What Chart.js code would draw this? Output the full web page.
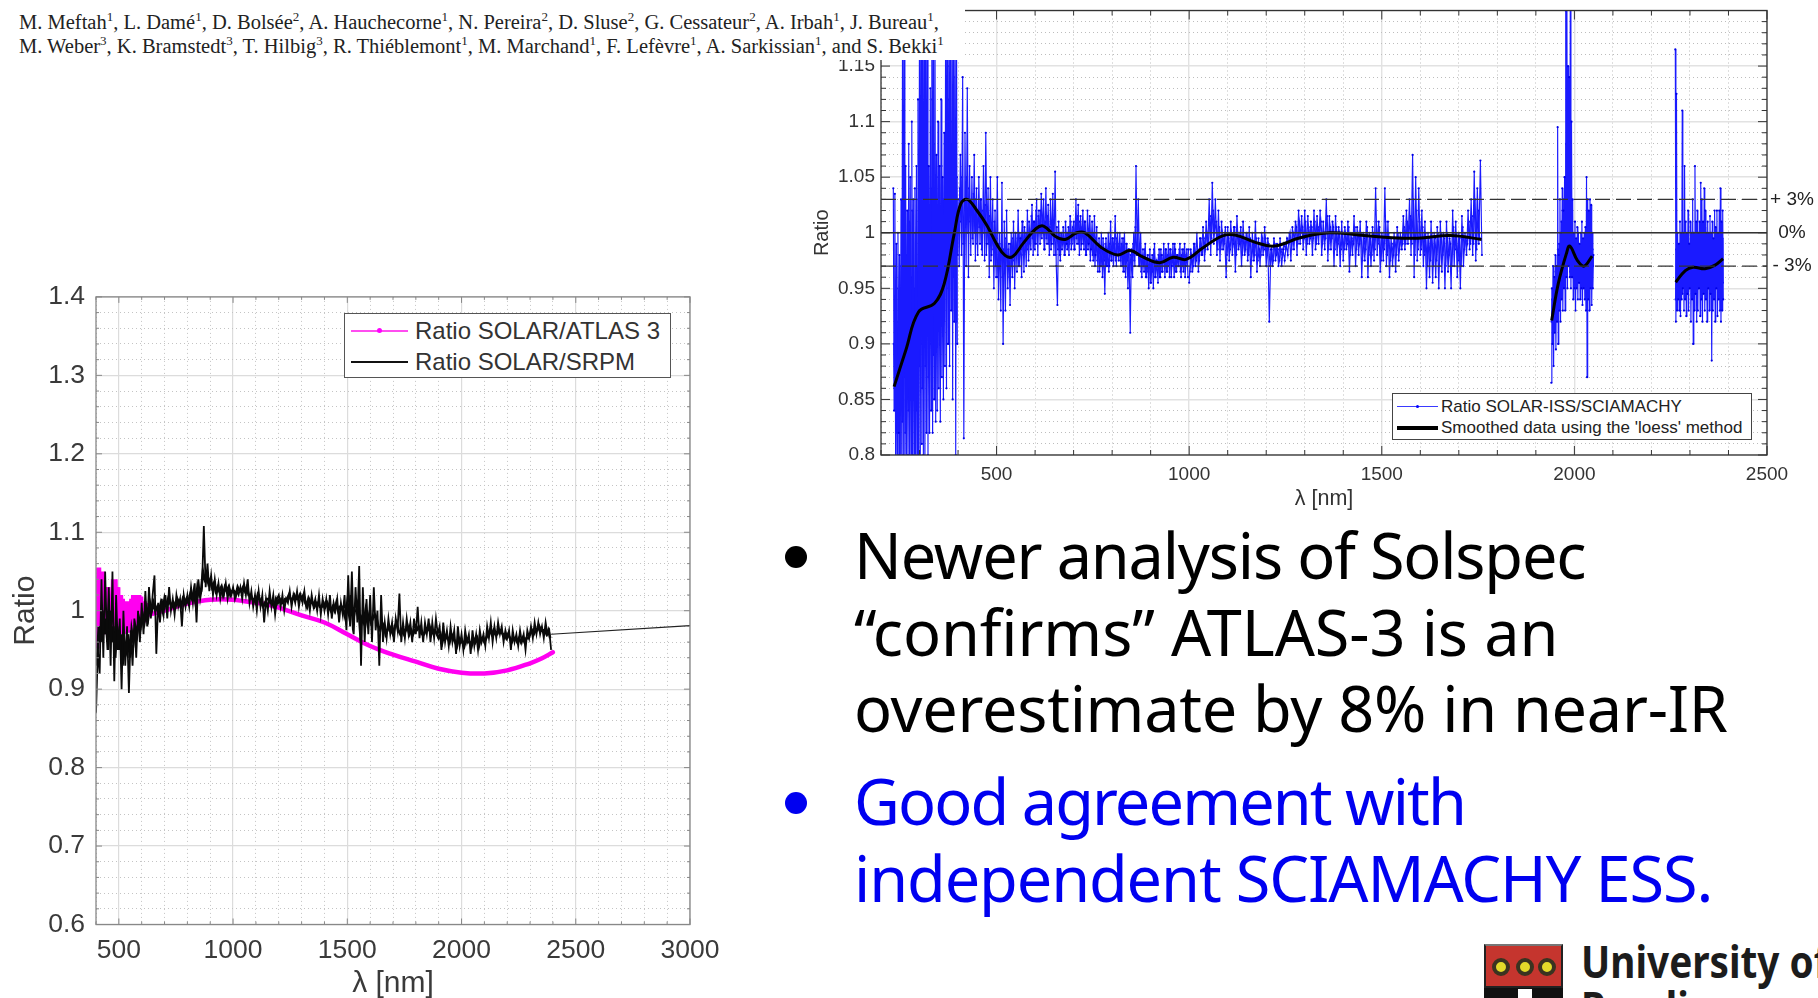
<!DOCTYPE html>
<html><head><meta charset="utf-8">
<script src="https://cdn.jsdelivr.net/npm/chart.js@4"></script>
<style>
html,body{margin:0;padding:0;background:#fff;width:1818px;height:998px;overflow:hidden}
#stage{position:relative;width:1818px;height:998px;overflow:hidden;background:#fff}
canvas{position:absolute;display:block}
.abs{position:absolute;white-space:nowrap}
#mask{left:0;top:0;width:965px;height:60px;background:#fff;z-index:5}
.auth{font-family:"Liberation Serif",serif;font-size:20.5px;color:#222;left:19px;line-height:24px}
.auth sup{font-size:13px;line-height:0}
.bl{font-family:"Noto Sans",sans-serif;font-size:63px;line-height:76px;left:854px;z-index:6}
.dot{border-radius:50%;width:22px;height:22px;left:785px}
.leg{background:#fff;z-index:6;box-sizing:border-box}
.lt{font-family:"Liberation Sans",sans-serif;color:#333}
</style></head><body>
<div id="stage">
<canvas id="leftChart" style="left:0;top:270px" width="740" height="728"></canvas>
<canvas id="rightChart" style="left:800px;top:-30px" width="1018" height="550"></canvas>

<div id="mask" class="abs">
<div class="abs auth" style="top:10px">M. Meftah<sup>1</sup>, L. Damé<sup>1</sup>, D. Bolsée<sup>2</sup>, A. Hauchecorne<sup>1</sup>, N. Pereira<sup>2</sup>, D. Sluse<sup>2</sup>, G. Cessateur<sup>2</sup>, A. Irbah<sup>1</sup>, J. Bureau<sup>1</sup>,</div>
<div class="abs auth" style="top:34px">M. Weber<sup>3</sup>, K. Bramstedt<sup>3</sup>, T. Hilbig<sup>3</sup>, R. Thiéblemont<sup>1</sup>, M. Marchand<sup>1</sup>, F. Lefèvre<sup>1</sup>, A. Sarkissian<sup>1</sup>, and S. Bekki<sup>1</sup></div>
</div>

<!-- left legend -->
<div class="abs leg" style="left:344px;top:313px;width:327px;height:65px;border:1.5px solid #555"></div>
<div class="abs" style="left:351px;top:330px;width:57px;height:1.5px;background:#ff4df0;z-index:7"></div>
<div class="abs" style="left:377px;top:328px;width:5px;height:5px;border-radius:50%;background:#f0f;z-index:7"></div>
<div class="abs" style="left:351px;top:361px;width:57px;height:2px;background:#111;z-index:7"></div>
<div class="abs lt" style="left:415px;top:316px;font-size:24px;line-height:30px;z-index:7">Ratio SOLAR/ATLAS 3</div>
<div class="abs lt" style="left:415px;top:347px;font-size:24px;line-height:30px;z-index:7">Ratio SOLAR/SRPM</div>

<!-- right legend -->
<div class="abs leg" style="left:1392px;top:393px;width:360px;height:47px;border:1.5px solid #444"></div>
<div class="abs" style="left:1397px;top:406px;width:41px;height:1px;background:#3a3aff;z-index:7"></div>
<div class="abs" style="left:1416px;top:405px;width:3px;height:3px;border-radius:50%;background:#00f;z-index:7"></div>
<div class="abs" style="left:1397px;top:426px;width:41px;height:3.5px;background:#000;z-index:7"></div>
<div class="abs lt" style="left:1441px;top:397px;font-size:17px;line-height:20px;z-index:7;color:#222">Ratio SOLAR-ISS/SCIAMACHY</div>
<div class="abs lt" style="left:1441px;top:418px;font-size:17px;line-height:20px;z-index:7;color:#222">Smoothed data using the 'loess' method</div>

<!-- bullets -->
<div class="abs dot" style="top:546px;background:#000"></div>
<div class="abs bl" style="top:517px;color:#000;letter-spacing:-1.16px">Newer analysis of Solspec</div>
<div class="abs bl" style="top:594px;color:#000;letter-spacing:-.1px">“confirms” ATLAS-3 is an</div>
<div class="abs bl" style="top:670px;color:#000;letter-spacing:-.28px">overestimate by 8% in near-IR</div>
<div class="abs dot" style="top:792px;background:#0000f0"></div>
<div class="abs bl" style="top:763px;color:#0000f0;letter-spacing:-1.9px">Good agreement with</div>
<div class="abs bl" style="top:840px;color:#0000f0;letter-spacing:-1.1px">independent SCIAMACHY ESS.</div>

<!-- logo -->
<div class="abs" style="left:1484px;top:944px;width:79px;height:44px;background:#c5352e;border:2px solid #222;border-top-color:#777;box-sizing:border-box"></div>
<div class="abs" style="left:1484px;top:988px;width:79px;height:10px;background:#111"></div>
<div class="abs" style="left:1518px;top:989px;width:14px;height:9px;background:#fff"></div>
<div class="abs" style="left:1492px;top:958px;width:18px;height:18px;border-radius:50%;background:#e3d92a;border:4px solid #3a3320;box-sizing:border-box"></div>
<div class="abs" style="left:1516px;top:958px;width:18px;height:18px;border-radius:50%;background:#e3d92a;border:4px solid #3a3320;box-sizing:border-box"></div>
<div class="abs" style="left:1538px;top:958px;width:18px;height:18px;border-radius:50%;background:#e3d92a;border:4px solid #3a3320;box-sizing:border-box"></div>
<div class="abs" style="left:1581px;top:935px;font-family:'Noto Sans',sans-serif;font-weight:700;font-size:44px;line-height:52px;color:#1c1c1c;transform:scaleX(.88);transform-origin:left center">University of</div>
<div class="abs" style="left:1581px;top:981px;font-family:'Noto Sans',sans-serif;font-weight:700;font-size:44px;line-height:52px;color:#1c1c1c;transform:scaleX(.88);transform-origin:left center">Reading</div>
</div>

<script>
/* ---------- left panel data ---------- */
const srpmStart = 400, srpmStep = 8;
const srpmRatio = [
.87,.95,.92,1.04,.94,1.05,.96,1.03,.93,1.05,.91,1.02,.95,.99,.90,1.0,.93,.98,.895,.975,.93,.99,.94,1.0,.96,
1.01,.97,1.025,.98,1.03,.99,1.02,1.045,.945,1.01,.985,1.015,.995,1.02,.99,1.03,1.0,1.015,.995,1.02,1.005,1.015,.98,1.02,1.005,
1.02,1.005,1.03,1.01,1.035,.985,1.04,1.015,1.03,1.108,1.03,1.06,1.025,1.045,1.02,1.04,1.02,1.035,1.015,1.03,1.02,1.035,1.015,1.03,1.02,
1.03,1.015,1.025,1.02,1.03,1.015,1.035,1.02,1.04,1.01,1.025,1.005,1.02,1.0,1.025,1.005,1.02,.985,1.015,1.0,1.025,1.005,1.02,.995,1.015,
1.02,1.005,1.02,1.0,1.015,1.01,1.025,1.005,1.02,1.01,1.025,1.005,1.02,1.01,1.025,1.005,1.015,1.0,1.02,1.005,1.015,1.0,1.02,.995,1.015,
1.0,1.015,.995,1.02,.99,1.01,1.0,1.015,.985,1.01,.995,1.02,.975,1.045,.98,1.05,.97,1.03,.985,1.057,.93,1.03,.96,1.015,.97,
1.02,.96,1.03,.975,1.0,.93,1.02,.96,.985,.965,.99,.97,.985,.96,.99,.975,1.022,.96,.985,.965,.99,.97,.985,.96,.99,
.97,1.005,.965,.985,.96,.985,.97,.99,.96,.985,.965,.99,.97,.98,.95,.985,.96,.975,.955,.98,.96,.975,.945,.98,.955,
.97,.95,.975,.96,.97,.945,.975,.955,.97,.95,.975,.96,.97,.955,.98,.965,.985,.96,.98,.965,.985,.97,.98,.96,.975,
.965,.975,.95,.975,.96,.97,.955,.975,.96,.97,.95,.975,.965,.98,.965,.985,.97,.985,.97,.98,.965,.985,.97,.975,.95];
const srpmCoreStart = 404, srpmCoreStep = 8;
const srpmCore = [
.93,.98,.96,1.0,.97,.99,.95,1.0,.96,.98,.94,.98,.95,.97,.93,.96,.95,.97,.94,.975,.96,.98,.97,.99,.98,
.995,.985,1.0,.99,1.01,1.0,1.01,1.0,1.005,1.0,1.01,1.0,1.015,1.005,1.015,1.01,1.005,1.01,1.005,1.015,1.01,1.005,1.015,1.01,1.015,
1.01,1.02,1.015,1.025,1.01,1.03,1.02,1.025,1.05,1.04,1.045,1.035,1.04,1.03,1.035,1.025,1.03,1.025,1.03,1.02,1.03,1.025,1.03,1.02,1.025,
1.025,1.02,1.03,1.025,1.025,1.03,1.025,1.03,1.02,1.02,1.015,1.015,1.01,1.02,1.015,1.01,1.005,1.01,1.015,1.015,1.01,1.01,1.005,1.015,1.01,
1.015,1.01,1.01,1.015,1.015,1.02,1.015,1.015,1.02,1.015,1.015,1.02,1.015,1.02,1.01,1.005,1.015,1.01,1.01,1.005,1.01,1.01,1.005,1.005,1.01,
1.005,1.01,1.005,1.0,1.005,1.0,1.01,1.0,1.005,1.005,1.0,.99,1.01,.995,1.02,.985,1.0,1.0,1.01,.975,.99,.985,1.0,.985,.995,
.985,.99,.995,.99,.98,.975,.985,.98,.97,.975,.98,.975,.97,.98,.985,.975,.97,.975,.97,.975,.98,.97,.975,.97,.975,
.975,.98,.975,.97,.97,.975,.975,.98,.97,.975,.975,.97,.965,.97,.96,.97,.965,.965,.96,.97,.965,.96,.955,.965,.96,
.96,.955,.965,.96,.96,.955,.965,.96,.965,.955,.965,.965,.96,.965,.97,.975,.97,.975,.97,.97,.975,.975,.97,.97,.965,
.97,.965,.96,.965,.965,.96,.965,.96,.965,.96,.965,.965,.97,.975,.97,.975,.975,.98,.975,.975,.975,.97,.975,.965];
const srpmTailX = [2392, 3000];
const srpmTailY = [.97, .981];
const atlasNoiseStart = 400, atlasNoiseStep = 4;
const atlasNoise = [.955,1.0,.96,1.055,.965,1.05,.97,1.05,.97,1.03,.975,1.02,.98,1.03,.975,1.01,.975,1.02,.98,1.04,.98,1.04,.975,1.03,.98,1.02,.975,1.02,.975,1.015,.97,1.012,.975,1.01,.975,1.012,.975,1.005,.975,1.015,.98,1.02,.98,1.02,.98,1.018,.985,1.02,.985,1.018,.99,1.012,.985,1.012,.99,1.01];
const atlasSmoothX = [630,700,750,800,850,900,950,1000,1050,1100,1150,1200,1300,1400,1500,1600,1700,1800,1900,2000,2100,2200,2300,2350,2400];
const atlasSmoothY = [.995,1.0,1.005,1.009,1.012,1.014,1.0145,1.014,1.012,1.01,1.008,1.004,.994,.985,.97,.955,.944,.935,.926,.921,.92,.924,.933,.939,.947];

/* ---------- right panel data ---------- */
const sciaAStart = 232, sciaAStep = 2;
const sciaA = [1.04,.84,1.035,.79,.99,.78,1.0,.82,.98,.79,1.03,.78,1.22,.80,1.21,.78,1.06,.79,1.02,.80,1.08,.78,1.05,.79,1.1,.80,1.03,.78,1.04,.79,1.06,.78,1.12,
.80,1.22,.79,1.24,.81,1.21,.80,1.23,.79,1.22,.82,1.21,.80,1.06,.82,1.13,.84,1.23,.82,1.22,.85,1.21,.83,1.07,.84,1.1,.86,1.06,.83,1.12,.87,1.05,.85,1.09,.88,
1.24,.86,1.22,.90,1.25,.88,1.21,.93,1.23,.85,1.22,.92,1.21,.80,1.19,.90];
const sciaACoreStart = 233, sciaACoreStep = 2;
const sciaACore = [.9,.86,.93,.82,.95,.85,.92,.8,.97,.84,.91,.83,1.0,.87,.94,.82,.98,.88,.93,.84,1.01,.86,.96,.9,1.02,.85,.95,.89,1.0,.84,.97,.92,1.03,
.88,1.05,.9,1.08,.86,1.0,.94,1.06,.88,1.1,.92,1.02,.87,.98,.9,1.04,.93,1.12,.89,1.08,.95,1.04,.9,1.0,.93,1.05,.96,1.02,.92,1.06,.98,1.03,.94,1.08,.97,
1.1,.95,1.15,.99,1.12,.97,1.08,1.0,1.1,.96,1.14,1.0,1.06,.92,1.05,.98];
const sciaBStart = 400, sciaBStep = 3;
const sciaB = [
1.03,.97,1.07,.98,1.14,.815,1.09,.97,1.13,.96,1.06,.98,1.05,.99,1.07,.975,1.04,.98,1.05,.99,
1.03,.98,1.06,.975,1.09,.99,1.04,.96,1.05,.98,1.03,.95,1.02,.96,1.05,.94,1.0,.93,1.045,.90,
1.01,.93,1.02,.95,.99,.935,1.0,.96,1.01,.95,1.0,.965,1.02,.97,.995,.96,1.01,.965,1.0,.97,
1.02,.975,1.0,.985,1.025,.98,1.01,.99,1.03,.98,1.02,.99,1.035,1.0,1.03,.985,1.04,.99,1.025,.98,
1.03,.99,1.035,.98,1.055,.97,.935,1.01,.98,1.0,.985,1.005,.98,1.01,.99,1.0,.98,1.015,.985,1.0,
1.01,.985,1.03,.99,1.025,.98,1.015,.99,1.02,.985,1.01,.98,1.02,.99,1.015,.985,1.01,.975,1.015,.98,
1.005,.965,.995,.97,1.0,.96,.985,.945,.995,.97,1.0,.97,1.01,.975,.995,.98,1.015,.97,1.0,.975,
1.0,.97,.995,.965,1.0,.96,.99,.95,.985,.91,.985,.96,1.0,.97,1.06,.98,1.03,.97,1.0,.96,
.985,.965,.99,.96,.98,.95,.985,.955,.98,.95,.99,.96,.975,.955,.985,.96,.98,.965,.99,.96,
.985,.965,.99,.96,.985,.97,.99,.96,.985,.965,.98,.97,.99,.96,.985,.965,.99,.97,.985,.96];
const sciaBCoreStart = 401.5, sciaBCoreStep = 3;
const sciaBCore = [
1.0,1.04,1.01,1.05,.99,1.03,1.02,1.05,1.0,1.04,1.01,1.03,.995,1.035,1.0,1.03,.99,1.02,1.005,1.03,
.985,1.02,1.0,1.025,.98,1.01,.99,1.015,.975,1.0,.985,1.01,.97,.995,.96,.99,.975,.99,.96,.985,
.965,.995,.97,.985,.96,.99,.97,.995,.975,1.0,.98,.995,.97,1.0,.985,1.01,.98,1.005,.99,1.0,
.985,1.01,.99,1.015,.995,1.01,.985,1.02,.99,1.015,1.0,1.02,.995,1.015,.985,1.01,.995,1.015,.99,1.005,
.985,1.01,.99,1.0,.98,1.005,.985,1.0,.975,1.0,.99,.995,.98,1.0,.985,1.005,.99,1.01,.99,1.005,
.985,1.01,.995,1.015,.99,1.01,.985,1.005,.99,1.01,.98,1.0,.985,1.0,.975,.995,.98,1.0,.97,.995,
.975,.99,.965,.985,.97,.995,.975,.99,.97,.985,.965,.99,.975,.995,.97,.99,.975,.995,.98,.99,
.975,.99,.97,.995,.965,.99,.975,.985,.96,.98,.97,.99,.975,1.005,.98,1.0,.97,.985,.965,.98,
.97,.985,.96,.975,.965,.98,.955,.975,.965,.985,.96,.975,.97,.98,.96,.985,.965,.98,.97,.985,
.965,.98,.97,.985,.96,.98,.97,.99,.965,.98,.97,.985,.965,.98,.97,.985,.96,.98,.97,.985];
const sciaCStart = 1000, sciaCStep = 4;
const sciaC = [
.955,.985,.965,.99,.97,1.0,.965,.995,.98,1.005,.975,1.01,.985,1.03,.98,1.045,.99,1.03,.98,1.02,
.975,1.01,.985,1.0,.96,1.005,.975,1.01,.98,1.005,.965,1.015,.985,1.0,.97,1.01,.98,1.0,.975,1.005,
.96,1.0,.975,1.01,.965,.995,.97,1.0,.98,1.005,.97,.995,.92,.985,.97,.995,.975,.99,.97,.995,
.97,.985,.975,.99,.98,1.0,.975,1.005,.985,1.01,.98,1.02,.99,1.015,.985,1.02,.98,1.015,.99,1.01,
.98,1.02,.985,1.015,.99,1.02,.98,1.01,.985,1.03,.975,1.015,.985,1.01,.97,1.015,.98,1.005,.97,1.01,
.975,1.005,.985,1.01,.965,1.0,.98,1.015,.97,1.005,.98,1.01,.96,1.0,.975,1.01,.96,1.0,.97,1.005,
.975,1.04,.98,1.01,.965,1.0,.975,1.04,.97,1.01,.96,.995,.97,1.0,.965,1.005,.975,1.0,.985,1.015,
.985,1.02,.99,1.03,.98,1.07,.96,1.05,.975,1.04,.98,1.02,.97,1.01,.95,1.0,.96,1.01,.955,1.0,
.96,1.005,.95,1.01,.965,1.0,.95,1.01,.965,.995,.95,1.02,.97,1.01,.96,1.0,.95,1.015,.97,1.0,
.98,1.02,.985,1.03,.98,1.055,.975,1.04,.99,1.065,.98];
const sciaCCoreStart = 1002, sciaCCoreStep = 4;
const sciaCCore = [
.965,.98,.97,.99,.975,.985,.975,.995,.98,.995,.985,1.0,.99,1.015,.995,1.02,1.0,1.01,.985,1.005,
.985,1.0,.99,1.005,.98,.995,.985,1.0,.99,1.005,.98,1.0,.99,1.005,.98,.995,.985,1.0,.98,.995,
.975,.99,.98,.995,.975,.985,.98,.995,.985,.995,.98,.99,.97,.985,.975,.99,.98,.985,.975,.985,
.98,.99,.985,.995,.99,1.0,.985,1.0,.995,1.005,.99,1.01,1.0,1.005,.995,1.01,.99,1.005,.995,1.005,
.995,1.01,.99,1.005,1.0,1.01,.99,1.0,.995,1.015,.985,1.005,.995,1.005,.985,1.005,.99,1.0,.985,1.0,
.985,1.0,.99,1.005,.98,.995,.99,1.005,.985,1.0,.99,1.0,.975,.995,.985,1.005,.98,.995,.98,1.0,
.985,1.01,.99,1.005,.975,.995,.985,1.01,.98,1.0,.975,.99,.98,.995,.98,1.0,.985,.995,.99,1.005,
.99,1.01,.995,1.015,.99,1.03,.98,1.02,.985,1.01,.985,1.005,.98,1.0,.97,.995,.975,1.0,.97,.995,
.975,1.0,.97,1.0,.98,.995,.97,1.0,.98,.99,.97,1.005,.985,1.0,.975,.995,.97,1.005,.985,.995,
.99,1.01,.99,1.015,.99,1.03,.985,1.02,.995];
const sciaDStart = 1940, sciaDStep = 1.5;
const sciaD = [.865,.95,.90,.97,.88,.96,.91,.98,.895,.97,.92,1.095,.90,.98,.93,1.03,.92,1.0,.94,1.04,.93,1.02,.95,1.05,.93,1.2,.96,1.22,.95,1.15,.97,1.14,.96,1.24,.95,1.1,.96,1.03,.94,1.0,.95,1.01,.93,.995,.95,1.005,.94,1.0,.955,.99,.94,1.0,.95,1.01,.935,.995,.95,1.0,.94,1.005,.93,1.05,.87,1.03,.94,1.02,.93,1.03,.95,1.025,.935,1.0,.95,.98];
const sciaDCoreStart = 1940.7, sciaDCoreStep = 1.5;
const sciaDCore = [.92,.94,.91,.95,.93,.96,.92,.965,.94,.97,.95,.985,.94,.99,.96,1.0,.95,1.01,.965,1.02,.97,1.03,.96,1.05,.98,1.08,.985,1.1,.97,1.06,.98,1.03,.965,1.01,.97,1.0,.96,.99,.965,.985,.955,.98,.97,.99,.96,.985,.965,.98,.955,.985,.97,.98,.96,.99,.965,.985,.955,.98,.97,.99,.96,.985,.965,1.0,.97,.99,.96,.995,.97,1.0,.965,.985,.97];
const sciaEStart = 2262, sciaEStep = 1.5;
const sciaE = [1.165,.92,1.125,.93,1.0,.94,.99,.93,1.01,.925,1.0,.94,1.11,.95,1.0,.93,1.06,.94,1.01,.925,1.0,.945,1.02,.93,.99,.95,1.01,.92,1.0,.94,1.03,.90,1.0,.93,1.06,.945,1.01,.92,1.02,.93,1.0,.95,1.01,.925,1.045,.94,1.03,.92,1.01,.945,1.04,.93,1.02,.94,1.0,.92,1.01,.95,1.0,.93,1.015,.945,1.0,.885,1.01,.93,.995,.94,1.02,.92,1.005,.95,1.02,.925,1.0,.94,1.02,.93,1.04,.92,1.01,.93,1.02,.94];
const sciaECoreStart = 2262.7, sciaECoreStep = 1.5;
const sciaECore = [.94,.985,.95,.97,.945,.98,.955,.99,.95,.975,.96,.985,.945,.99,.96,.975,.95,.985,.955,.995,.945,.97,.96,.985,.95,.99,.96,.975,.945,.985,.955,1.0,.95,.98,.965,.99,.945,.975,.96,.985,.95,1.0,.955,.98,.945,.995,.965,.985,.95,.975,.96,1.005,.945,.98,.955,.99,.95,.985,.96,.975,.945,1.0,.955,.985,.95,.975,.965,.99,.945,.98,.96,1.0,.95,.985,.955,.975,.96,1.01,.95,.985,.965,.995,.955];
const loessAX = [234,265,297,339,364,390,407,424,449,475,500,522,542,568,602,622,653,678,708,729,771,814,847,881,924,958,992,1034,1085,1119,1170,1220,1288,1364,1441,1508,1593,1678,1759];
const loessAY = [.8615,.895,.9285,.9366,.954,.999,1.026,1.03,1.02,1.0066,.99,.9796,.9787,.99,1.0036,1.006,.9967,.994,1.0,1.0,.987,.98,.984,.978,.973,.978,.976,.986,.997,.998,.9916,.988,.9955,1.0,.998,.996,.995,.9976,.994];
const loessBX = [1941,1958,1979,1988,2008,2025,2046];
const loessBY = [.921,.954,.981,.988,.975,.97,.979];
const loessCX = [2263,2288,2308,2339,2364,2386];
const loessCY = [.9555,.966,.969,.9676,.9706,.9766];
const refLevels = [1.03, 1, .97];
const refLabels = ['+ 3%', '0%', '- 3%'];

/* ---------- helpers ---------- */
const grid = (start, step, ys) => ys.map((y, i) => ({x: start + i * step, y}));
const zip = (xs, ys) => xs.map((x, i) => ({x, y: ys[i]}));
const near = (v, m) => Math.abs(v / m - Math.round(v / m)) < 1e-6;
const range = (a, b, s) => { const r = []; const n = Math.round((b - a) / s); for (let i = 0; i <= n; i++) r.push(+(a + i * s).toFixed(4)); return r; };

const framePlugin = {
  id: 'frame',
  afterDraw(chart, args, o) {
    const {ctx, chartArea: a, scales} = chart;
    ctx.save();
    ctx.strokeStyle = o.color; ctx.lineWidth = o.width;
    ctx.strokeRect(a.left, a.top, a.right - a.left, a.bottom - a.top);
    ctx.lineWidth = 1;
    ctx.strokeStyle = o.tickColor;
    ctx.beginPath();
    scales.x.ticks.forEach(t => {
      const p = scales.x.getPixelForValue(t.value), L = o.isMajorX(t.value) ? o.major : o.minor;
      ctx.moveTo(p, a.bottom); ctx.lineTo(p, a.bottom - L);
      ctx.moveTo(p, a.top); ctx.lineTo(p, a.top + L);
    });
    scales.y.ticks.forEach(t => {
      const p = scales.y.getPixelForValue(t.value), L = o.isMajorY(t.value) ? o.major : o.minor;
      ctx.moveTo(a.left, p); ctx.lineTo(a.left + L, p);
      ctx.moveTo(a.right, p); ctx.lineTo(a.right - L, p);
    });
    ctx.stroke();
    if (o.sideLabels) {
      ctx.fillStyle = '#222'; ctx.font = '19px "Liberation Sans"';
      ctx.textAlign = 'center'; ctx.textBaseline = 'middle';
      o.sideLabels.forEach((s, i) => ctx.fillText(s, a.right + 25, scales.y.getPixelForValue(refLevels[i])));
    }
    ctx.restore();
  }
};

function axis(min, max, step, isMajor, cfg) {
  return {
    type: 'linear', min, max,
    afterBuildTicks: s => { s.ticks = range(min, max, step).map(value => ({value})); },
    afterFit: s => { if (cfg.size.w !== undefined) s.width = cfg.size.w; else s.height = cfg.size.h; },
    grid: {
      drawTicks: false,
      color: c => c.tick && isMajor(c.tick.value) ? cfg.majorColor : cfg.minorColor,
      lineWidth: c => c.tick && isMajor(c.tick.value) ? cfg.majorWidth : 1
    },
    border: {display: false, dash: c => c.tick && isMajor(c.tick.value) ? [] : [1, 3]},
    ticks: {
      autoSkip: false, maxRotation: 0, minRotation: 0, padding: cfg.pad, color: cfg.color,
      font: {family: '"Liberation Sans"', size: cfg.font},
      callback: v => isMajor(v) ? cfg.fmt(v) : ''
    },
    title: {display: true, text: cfg.title, color: cfg.color,
      font: {family: '"Liberation Sans"', size: cfg.titleFont}, padding: cfg.titlePad}
  };
}
const fmtY = v => String(+v.toFixed(2));

/* ---------- left chart ---------- */
const lx = v => near(v, 500), ly = v => near(v, 0.1);
new Chart(document.getElementById('leftChart'), {
  type: 'line',
  plugins: [framePlugin],
  data: {datasets: [
    {label: 'Ratio SOLAR/SRPM', data: grid(srpmStart, srpmStep, srpmRatio), borderColor: '#0a0a0a', borderWidth: 1.8, pointRadius: 0, order: 1},
    {label: 'Ratio SOLAR/SRPM (core)', data: grid(srpmCoreStart, srpmCoreStep, srpmCore), borderColor: '#0a0a0a', borderWidth: 2.6, pointRadius: 0, order: 1},
    {label: 'Ratio SOLAR/SRPM (extended)', data: zip(srpmTailX, srpmTailY), borderColor: '#222', borderWidth: 1.2, pointRadius: 0, order: 2},
    {label: 'Ratio SOLAR/ATLAS 3', data: grid(atlasNoiseStart, atlasNoiseStep, atlasNoise), borderColor: '#ff00f0', borderWidth: 5, pointRadius: 0, order: 3},
    {label: 'Ratio SOLAR/ATLAS 3 (smooth)', data: zip(atlasSmoothX, atlasSmoothY), borderColor: '#ff00f0', borderWidth: 4.5, pointRadius: 0, tension: .4, borderCapStyle: 'round', order: 4}
  ]},
  options: {
    responsive: false, animation: false,
    layout: {padding: {left: 0, top: 23.5, right: 50, bottom: 0}},
    plugins: {legend: {display: false}, tooltip: {enabled: false},
      frame: {color: '#888', width: 1.3, tickColor: '#888', major: 6, minor: 3, isMajorX: lx, isMajorY: ly}},
    scales: {
      x: axis(400, 3000, 100, lx, {size: {h: 73.5}, majorColor: '#dcdcdc', minorColor: '#c4c4c4', majorWidth: 1.2, pad: 10, color: '#3a3a3a', font: 26.5, titleFont: 30, title: 'λ [nm]', titlePad: {top: 0, bottom: -4}, fmt: v => String(v)}),
      y: axis(0.6, 1.4, 0.02, ly, {size: {w: 96}, majorColor: '#dcdcdc', minorColor: '#c4c4c4', majorWidth: 1.2, pad: 11, color: '#3a3a3a', font: 26.5, titleFont: 30, title: 'Ratio', titlePad: {top: 8, bottom: 0}, fmt: fmtY})
    }
  }
});

/* ---------- right chart ---------- */
const rx = v => near(v, 500), ry = v => near(v, 0.05);
const refSets = refLevels.map((lv, i) => ({
  label: refLabels[i], data: zip([200, 2500], [lv, lv]), borderColor: '#333',
  borderWidth: 1.4, pointRadius: 0, borderDash: lv === 1 ? [] : [15, 6], order: 1
}));
const blue = (label, data) => ({label, data, borderColor: '#1a1aff', borderWidth: 1.15, pointRadius: 1.1, pointBackgroundColor: '#0000e6', pointBorderWidth: 0, order: 3});
const black = (label, data) => ({label, data, borderColor: '#000', borderWidth: 3, pointRadius: 0, tension: .4, order: 2});
new Chart(document.getElementById('rightChart'), {
  type: 'line',
  plugins: [framePlugin],
  data: {datasets: [
    ...refSets,
    black("Smoothed data using the 'loess' method", zip(loessAX, loessAY)),
    black('Smoothed b', zip(loessBX, loessBY)),
    black('Smoothed c', zip(loessCX, loessCY)),
    blue('Ratio SOLAR-ISS/SCIAMACHY', grid(sciaAStart, sciaAStep, sciaA)),
    blue('Ratio a core', grid(sciaACoreStart, sciaACoreStep, sciaACore)),
    blue('Ratio b', grid(sciaBStart, sciaBStep, sciaB)),
    blue('Ratio b core', grid(sciaBCoreStart, sciaBCoreStep, sciaBCore)),
    blue('Ratio c', grid(sciaCStart, sciaCStep, sciaC)),
    blue('Ratio c core', grid(sciaCCoreStart, sciaCCoreStep, sciaCCore)),
    blue('Ratio d', grid(sciaDStart, sciaDStep, sciaD)),
    blue('Ratio d core', grid(sciaDCoreStart, sciaDCoreStep, sciaDCore)),
    blue('Ratio e', grid(sciaEStart, sciaEStep, sciaE)),
    blue('Ratio e core', grid(sciaECoreStart, sciaECoreStep, sciaECore))
  ]},
  options: {
    responsive: false, animation: false,
    layout: {padding: {left: 0, top: 40.5, right: 51, bottom: 0}},
    plugins: {legend: {display: false}, tooltip: {enabled: false},
      frame: {color: '#333', width: 1.3, tickColor: '#333', major: 9, minor: 5, isMajorX: rx, isMajorY: ry, sideLabels: refLabels}},
    scales: {
      x: axis(200, 2500, 100, rx, {size: {h: 65}, majorColor: '#e2e2e2', minorColor: '#bdbdbd', majorWidth: 1.4, pad: 8, color: '#333', font: 19, titleFont: 21.5, title: 'λ [nm]', titlePad: {top: 0, bottom: 8}, fmt: v => String(v)}),
      y: axis(0.8, 1.2, 0.01, ry, {size: {w: 81}, majorColor: '#e2e2e2', minorColor: '#bdbdbd', majorWidth: 1.4, pad: 6, color: '#333', font: 19, titleFont: 20, title: 'Ratio', titlePad: {top: 10, bottom: 0}, fmt: fmtY})
    }
  }
});
</script>
</body></html>
